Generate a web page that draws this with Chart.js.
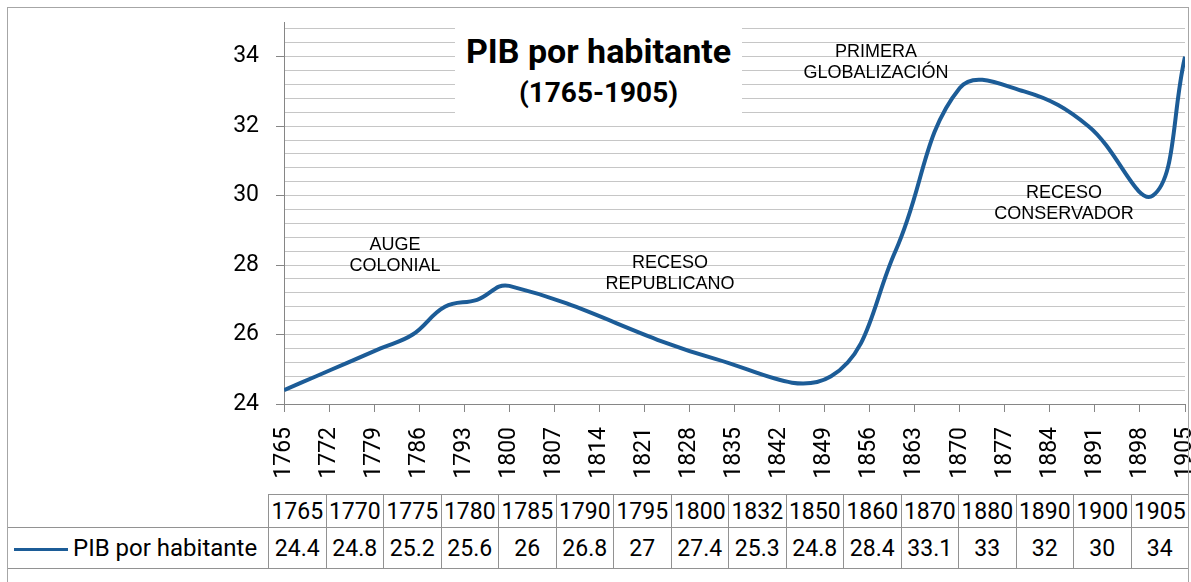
<!DOCTYPE html>
<html>
<head>
<meta charset="utf-8">
<script src="https://cdn.jsdelivr.net/npm/chart.js@4.4.1/dist/chart.umd.min.js"></script>
<style>
    body { margin: 0; background: #fff; width: 1191px; height: 582px; overflow: hidden; position: relative; font-family: Roboto, sans-serif; }
    #pib_chart { position: absolute; left: 0; top: 0; }
    #frame { position: absolute; left: 7px; top: 7px; width: 1180px; height: 620px; border: 1px solid #a6a6a6; z-index: 3; pointer-events: none; }
    #title_box { position: absolute; left: 455px; top: 25px; width: 287px; height: 92px; background: #fff; z-index: 2; }
    #title_box div { position: absolute; left: 0; width: 100%; text-align: center; font-weight: bold; color: #000; }
    .note { position: absolute; font-family: "Liberation Sans", Arial, sans-serif; font-size: 18px; line-height: 21px; text-align: center; color: #000; transform: translateX(-50%); white-space: nowrap; z-index: 2; }
    #data_table { position: absolute; left: 7px; top: 494px; width: 1181px; border-collapse: collapse; table-layout: fixed; font-size: 23px; color: #000; z-index: 2; }
    #data_table td { border: 1px solid #929292; text-align: center; padding: 0; white-space: nowrap; }
    #data_table tr.head td { height: 32px; }
    #data_table tr.vals td { height: 40px; }
    #data_table td.blank { border: none; }
    #data_table td.serie { text-align: left; padding-left: 6px; font-size: 24px; }
    .legend_line { display: inline-block; width: 54px; height: 3px; background: #1c5c97; vertical-align: middle; margin-right: 5px; }
</style>
</head>
<body>
<canvas id="pib_chart" width="1191" height="490"></canvas>
<div id="title_box">
    <div style="top: 6px; font-size: 34px; line-height: 40px;">PIB por habitante</div>
    <div style="top: 52px; font-size: 28px; line-height: 32px;">(1765-1905)</div>
</div>
<div class="note" style="left: 395px; top: 234px;">AUGE<br>COLONIAL</div>
<div class="note" style="left: 670px; top: 252px;">RECESO<br>REPUBLICANO</div>
<div class="note" style="left: 876px; top: 41px;">PRIMERA<br>GLOBALIZACIÓN</div>
<div class="note" style="left: 1064px; top: 182px;">RECESO<br>CONSERVADOR</div>
<table id="data_table"></table>
<div id="frame"></div>

<script>
const serie_nombre = 'PIB por habitante';
const anios = [1765, 1770, 1775, 1780, 1785, 1790, 1795, 1800, 1832, 1850, 1860, 1870, 1880, 1890, 1900, 1905];
const pib = [24.4, 24.8, 25.2, 25.6, 26, 26.8, 27, 27.4, 25.3, 24.8, 28.4, 33.1, 33, 32, 30, 34];

const x_min = 1765, x_max = 1905, x_paso = 7;
const y_min = 24, y_max = 35, y_paso_grilla = 0.4, y_paso_etiqueta = 2;

const color_linea = '#1c5c97';
const gris_eje = '#868686';
const gris_grilla = '#c6c6c6';

function es_mayor(v) {
    const r = Math.round(v);
    return Math.abs(v - r) < 1e-6 && r % y_paso_etiqueta === 0;
}

// tabla de datos debajo del grafico
function armar_tabla() {
    const tabla = document.getElementById('data_table');
    let html = '<colgroup><col style="width:261px">';
    anios.forEach(() => { html += '<col style="width:57.5px">'; });
    html += '</colgroup><tr class="head"><td class="blank"></td>';
    anios.forEach(a => { html += `<td>${a}</td>`; });
    html += '</tr><tr class="vals"><td class="serie"><span class="legend_line"></span>' + serie_nombre + '</td>';
    pib.forEach(v => { html += `<td>${v}</td>`; });
    html += '</tr>';
    tabla.innerHTML = html;
}

function dibujar_grafico() {
    const canvas_chart = document.getElementById('pib_chart');
    const puntos = anios.map((a, i) => ({ x: a, y: pib[i] }));

    new Chart(canvas_chart, {
        type: 'line',
        data: {
            datasets: [{
                label: serie_nombre,
                data: puntos,
                borderColor: color_linea,
                borderWidth: 4,
                pointRadius: 0,
                tension: 0.4,
                fill: false
            }]
        },
        options: {
            responsive: false,
            animation: false,
            layout: { padding: { top: 22, right: 6, left: 0, bottom: 0 } },
            plugins: { legend: { display: false }, tooltip: { enabled: false }, title: { display: false } },
            scales: {
                x: {
                    type: 'linear',
                    min: x_min,
                    max: x_max,
                    border: { color: gris_eje, width: 1 },
                    grid: { drawOnChartArea: false, drawTicks: true, tickLength: 8, tickColor: gris_eje },
                    ticks: {
                        stepSize: x_paso,
                        autoSkip: false,
                        minRotation: 90,
                        maxRotation: 90,
                        padding: 15,
                        color: '#000',
                        font: { family: 'Roboto', size: 23 },
                        callback: v => String(v)
                    },
                    afterFit: scale => { scale.height = 86; scale.paddingLeft = 0; scale.paddingRight = 0; }
                },
                y: {
                    type: 'linear',
                    min: y_min,
                    max: y_max,
                    border: { color: gris_eje, width: 1 },
                    afterBuildTicks: scale => {
                        const t = [];
                        for (let k = 0; y_min + k * y_paso_grilla < y_max - 1e-6; k++) {
                            t.push({ value: Math.round((y_min + k * y_paso_grilla) * 10) / 10 });
                        }
                        scale.ticks = t;
                    },
                    grid: {
                        color: gris_grilla,
                        lineWidth: 1,
                        tickLength: 8,
                        tickColor: ctx => (ctx.tick && es_mayor(ctx.tick.value)) ? gris_eje : 'rgba(0,0,0,0)'
                    },
                    ticks: {
                        autoSkip: false,
                        padding: 17,
                        color: '#000',
                        font: { family: 'Roboto', size: 23 },
                        callback: v => es_mayor(v) ? String(Math.round(v)) : ''
                    },
                    afterFit: scale => { scale.width = 284; scale.paddingTop = 0; scale.paddingBottom = 0; }
                }
            }
        }
    });
}

armar_tabla();
dibujar_grafico();
</script>
</body>
</html>
